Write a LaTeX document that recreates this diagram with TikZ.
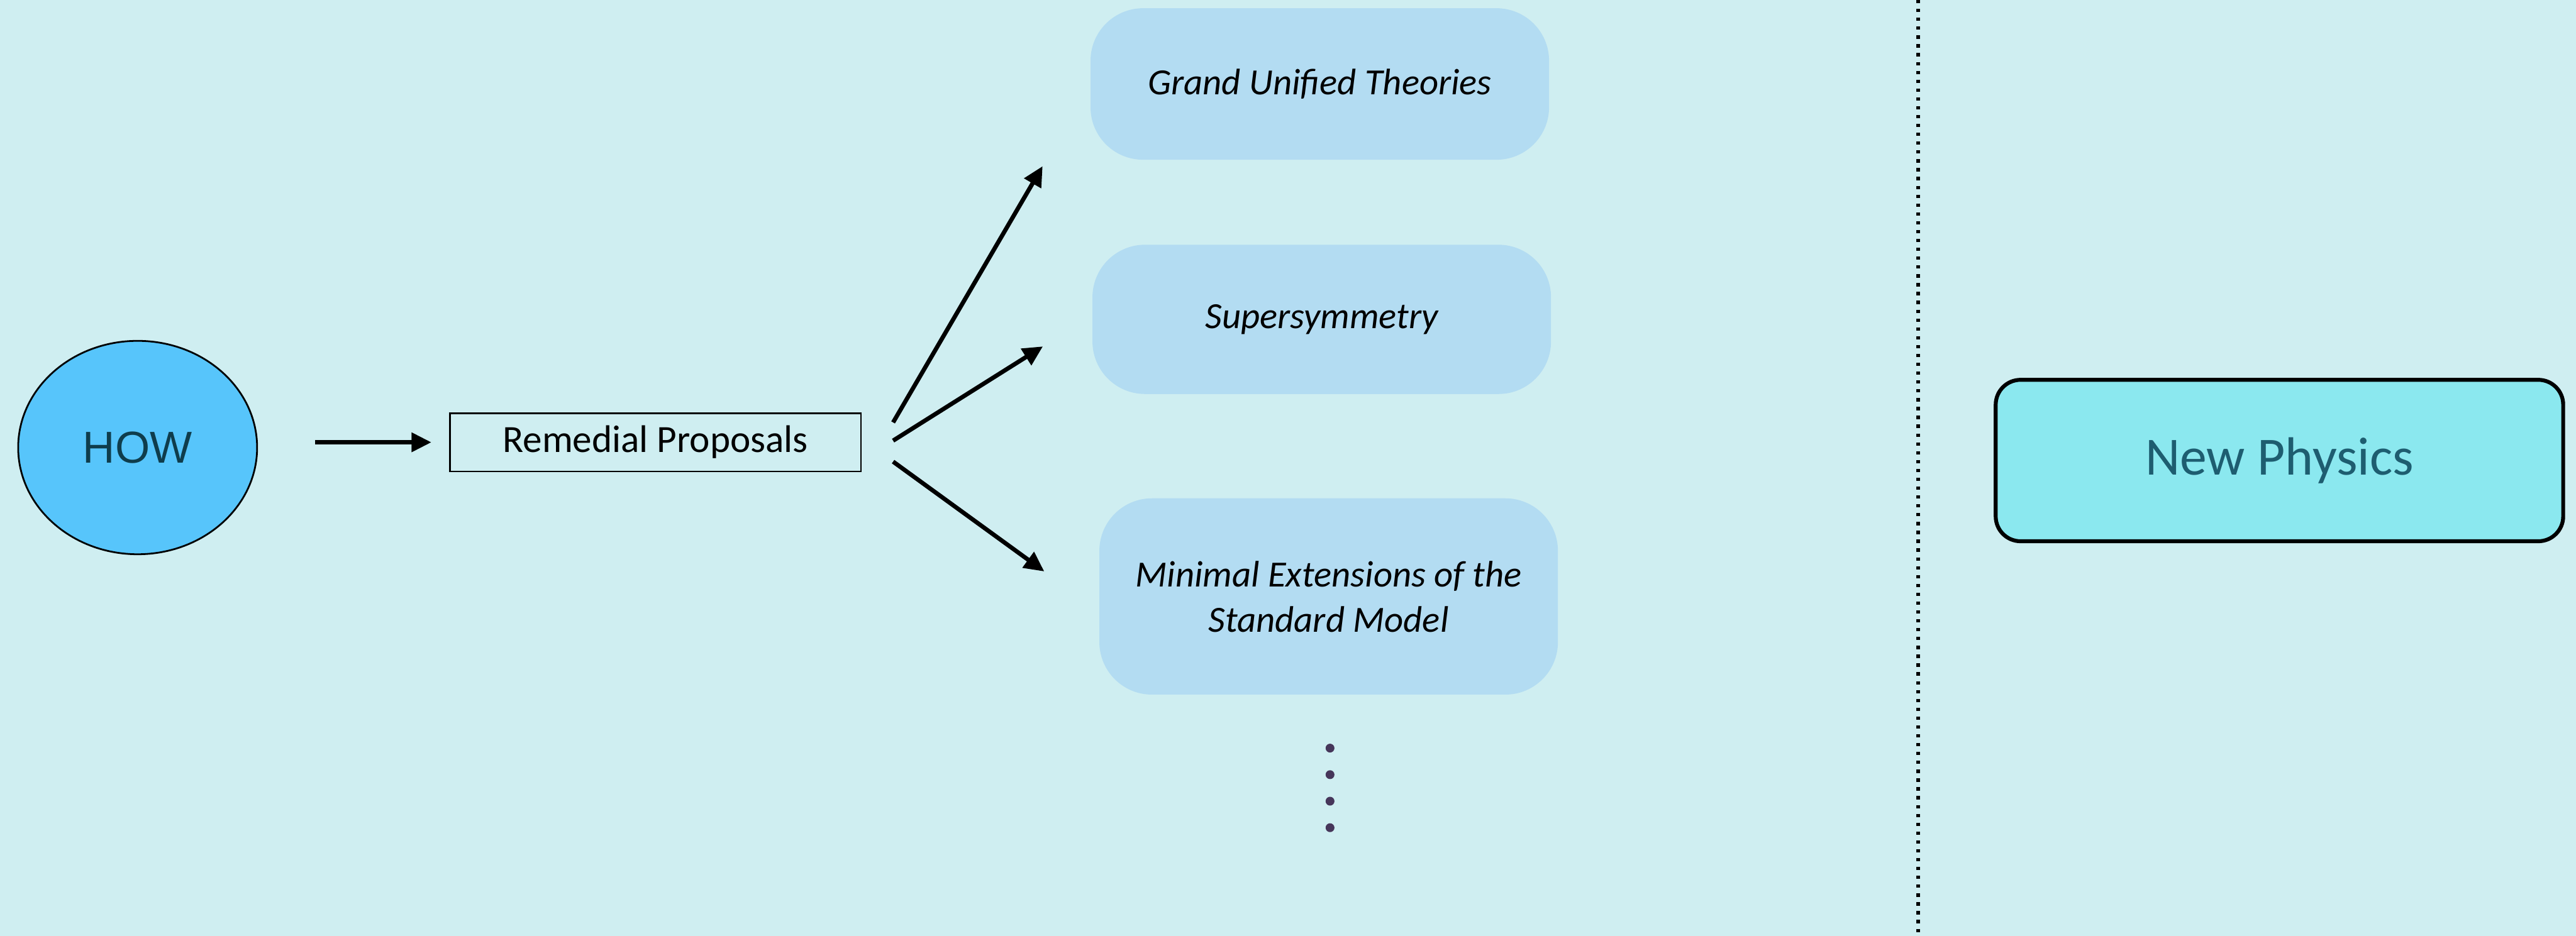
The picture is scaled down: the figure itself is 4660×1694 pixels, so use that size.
\documentclass[tikz,border=0pt]{standalone}
\usepackage{fontspec}
\setmainfont{Carlito}
\newfontfamily\howfont{Liberation Sans}
\usetikzlibrary{arrows.meta,calc,shapes.geometric}

\definecolor{bgc}{HTML}{CFEEF1}
\definecolor{howfill}{HTML}{57C5FB}
\definecolor{howtext}{HTML}{0F3D4C}
\definecolor{themefill}{HTML}{B3DCF2}
\definecolor{npfill}{HTML}{8BE8EF}
\definecolor{nptext}{HTML}{1E5D70}
\definecolor{dotc}{HTML}{46365A}

\tikzset{
  hownode/.style={ellipse, draw=black, line width=0.9pt, fill=howfill, inner sep=0pt,
    minimum width=4.32cm, minimum height=3.86cm, text=howtext,
    font=\howfont\fontsize{23}{27}\selectfont},
  propbox/.style={rectangle, draw=black, line width=0.8pt, inner sep=0pt,
    minimum width=7.43cm, minimum height=1.05cm, font=\fontsize{19.8}{23}\selectfont},
  theory/.style={rectangle, rounded corners=0.95cm, fill=themefill, inner sep=0pt,
    minimum width=8.29cm, font=\itshape\fontsize{19}{23.3}\selectfont, align=center},
  npbox/.style={rectangle, rounded corners=0.45cm, draw=black, line width=2pt, fill=npfill,
    inner sep=0pt, minimum width=10.26cm, minimum height=2.92cm, text=nptext,
    font=\fontsize{27.7}{31}\selectfont},
  arr/.style={line width=2.2pt, -{Triangle[length=0.36cm,width=0.34cm]}},
  ellipsisdot/.style={circle, fill=dotc, inner sep=0pt, minimum size=0.16cm},
}

\begin{document}
\begin{tikzpicture}[x=0.01cm,y=-0.01cm]
  % page background and frame
  \fill[bgc] (0,0) rectangle (4660,1694);
  \useasboundingbox (0,0) rectangle (4660,1694);

  % left part: question and proposals
  \node[hownode] (how) at (249,810) {HOW};
  \node[propbox] (rem) at (1185.5,800.5) {Remedial Proposals};

  % candidate theories
  \node[theory, minimum height=2.74cm] (gut) at (2387.5,152) {Grand Unified Theories};
  \node[theory, minimum height=2.70cm] (susy) at (2391,578) {Supersymmetry};
  \node[theory, minimum height=3.55cm] (mesm) at (2403.5,1079.5) {Minimal Extensions of the\\Standard Model};

  % vertical ellipsis below the list
  \node[ellipsisdot] (d1) at (2406,1354) {};
  \node[ellipsisdot] (d2) at (2406,1402) {};
  \node[ellipsisdot] (d3) at (2406,1450) {};
  \node[ellipsisdot] (d4) at (2406,1498) {};

  % dotted separator
  \coordinate (septop) at (3470,0);
  \coordinate (sepbot) at (3470,1694);
  \draw[black, line width=0.06cm, dash pattern=on 0.06cm off 0.10cm] (septop) -- (sepbot);

  % right part
  \node[npbox] (np) at (4123.5,833.5) {New Physics};

  % connectors
  \draw[arr, shorten <=1.03cm, shorten >=0.32cm] (how.east |- rem.west) -- (rem.west);

  \coordinate (f1) at ($(rem.east)+(57,-36)$);
  \coordinate (f2) at ($(rem.east)+(57,-3)$);
  \coordinate (f3) at ($(rem.east)+(57,35)$);
  \coordinate (t1) at ($(gut.south west)+(-86,11)$);
  \coordinate (t2) at ($(susy.west)+(-89,49)$);
  \coordinate (t3) at ($(mesm.north west)+(-99,133)$);
  \draw[arr] (f1) -- (t1);
  \draw[arr] (f2) -- (t2);
  \draw[arr] (f3) -- (t3);
\end{tikzpicture}
\end{document}
